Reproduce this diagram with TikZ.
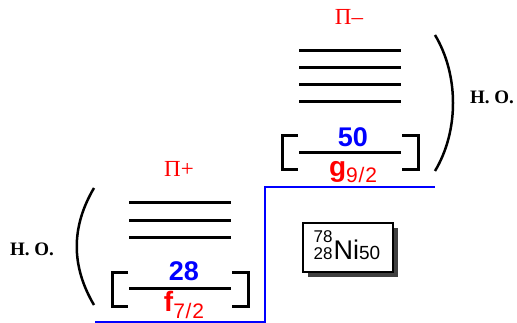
\documentclass[tikz,border=0pt]{standalone}
\usepackage{fontspec}
\setmainfont{Liberation Serif}
\newfontfamily\hv{Liberation Sans}
\usetikzlibrary{shadows}
\tikzset{
  lvl/.style={line width=3pt},
  brk/.style={line width=3pt},
  paren/.style={line width=2.5pt},
  blueline/.style={blue, line width=1.8pt},
  magic/.style={blue, font=\hv\bfseries\fontsize{27}{27}\selectfont, inner sep=0pt, anchor=base},
  orb/.style={red, font=\hv\fontsize{28}{28}\selectfont, inner sep=0pt, anchor=base},
  parity/.style={red, font=\fontsize{23}{23}\selectfont, inner sep=0pt, anchor=base},
  ho/.style={font=\bfseries\fontsize{19}{19}\selectfont, inner sep=0pt, anchor=base},
  nibox/.style={draw, line width=1.4pt, fill=white, minimum width=90pt, minimum height=49pt, inner sep=0pt,
    drop shadow={shadow xshift=5pt, shadow yshift=-5pt, fill=black!75, opacity=1}}
}
\newcommand\frsub[2]{{\mdseries\fontsize{21}{21}\selectfont\raisebox{-6pt}{#1\kern0.8pt/\kern0.8pt#2}}}
\begin{document}
\begin{tikzpicture}[x=1pt,y=-1pt]
\useasboundingbox (0,0) rectangle (517,323);
% upper group
\draw[lvl] (299,51) -- (401,51);
\draw[lvl] (299,68) -- (401,68);
\draw[lvl] (299,85) -- (401,85);
\draw[lvl] (299,102) -- (401,102);
\draw[lvl] (299,153) -- (401,153);
\draw[brk] (298,136) -- (282,136) -- (282,170) -- (298,170);
\draw[brk] (402,136) -- (418,136) -- (418,170) -- (402,170);
\node[parity] (pim) at (349,25) {Π–};
\node[magic] (n50) at (353,147) {50};
\node[orb] (g92) at (353,177) {\bfseries g\frsub{9}{2}};
\coordinate (ra) at (435,35);
\coordinate (rb) at (435,171);
\draw[paren] (ra) .. controls (459,75) and (459,131) .. (rb);
\node[ho] (ho1) at (492,104) {H. O.};
% lower group
\draw[lvl] (129,203) -- (231,203);
\draw[lvl] (129,221) -- (231,221);
\draw[lvl] (129,238) -- (231,238);
\draw[lvl] (129,289) -- (231,289);
\draw[brk] (128,273) -- (112,273) -- (112,306) -- (128,306);
\draw[brk] (232,273) -- (248,273) -- (248,306) -- (232,306);
\node[parity] (pip) at (179,177) {Π+};
\node[magic] (n28) at (184,280) {28};
\node[orb] (f72) at (184,312) {\bfseries f\frsub{7}{2}};
\coordinate (la) at (94,188);
\coordinate (lb) at (94,305);
\draw[paren] (la) .. controls (71,227) and (71,266) .. (lb);
\node[ho] (ho2) at (32,256) {H. O.};
% blue boundary
\coordinate (b1) at (95,322);
\coordinate (b2) at (265,322);
\coordinate (b3) at (265,187);
\coordinate (b4) at (435,187);
\draw[blueline] (b1) -- (b2) -- (b3) -- (b4);
% nucleus box
\node[nibox] (ni) at (348,247.5) {\hspace{-2pt}\hv{\fontsize{17}{16}\selectfont\renewcommand\arraystretch{1}\begin{tabular}[b]{@{}r@{}}78\\28\end{tabular}}\hspace{1pt}{\hv\fontsize{27}{27}\selectfont Ni}{\hv\fontsize{19}{19}\selectfont 50}};
\end{tikzpicture}
\end{document}
